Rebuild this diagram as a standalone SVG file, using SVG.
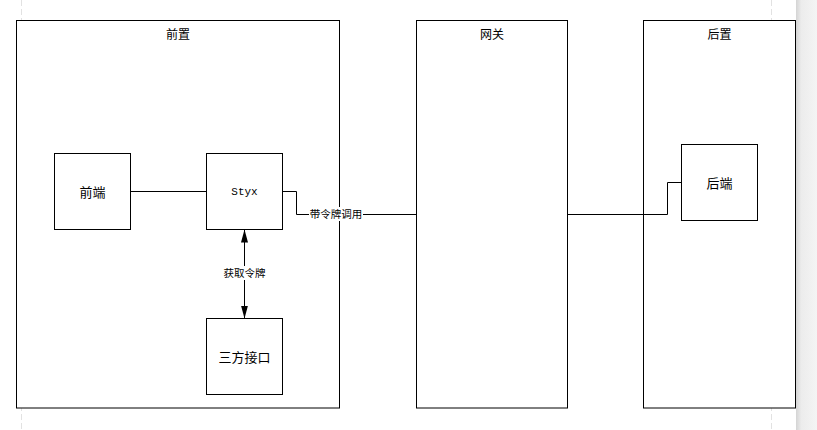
<svg xmlns="http://www.w3.org/2000/svg" width="817" height="430" viewBox="0 0 817 430">
<defs>
<style>
.box{fill:#fff;stroke:#000;stroke-width:1}
.ln{fill:none;stroke:#000;stroke-width:1}
.t{font-family:"Noto Sans CJK SC","Liberation Sans",sans-serif;font-size:12px;fill:#000;text-anchor:middle;dominant-baseline:central}
.lbl{font-family:"Noto Sans CJK SC","Liberation Sans",sans-serif;font-size:10.5px;fill:#000;text-anchor:middle;dominant-baseline:central}
.mono{font-family:"Liberation Mono",monospace;font-size:11px;fill:#000;text-anchor:middle;dominant-baseline:central}
.pg{stroke:#e2e2e2;stroke-width:1;stroke-dasharray:6 3;fill:none}
</style>
<linearGradient id="sb" x1="0" x2="1" y1="0" y2="0">
<stop offset="0" stop-color="#d4d4d4"/>
<stop offset="0.25" stop-color="#ececec"/>
<stop offset="1" stop-color="#f4f4f4"/>
</linearGradient>
<marker id="ah" viewBox="0 0 13 7" refX="13" refY="3.5" markerWidth="13" markerHeight="7" markerUnits="userSpaceOnUse" orient="auto-start-reverse">
<path d="M0,0 L13,3.5 L0,7 Z" fill="#000"/>
</marker>
</defs>
<rect x="0" y="0" width="817" height="430" fill="#fff"/>
<line class="pg" x1="21.5" y1="0" x2="21.5" y2="430"/>
<line class="pg" x1="771.5" y1="0" x2="771.5" y2="430"/>
<rect x="796" y="0" width="21" height="430" fill="url(#sb)"/>

<g id="front-container">
<rect class="box" x="16.5" y="20.5" width="323" height="387.5"/>
<text class="t" x="178" y="33">前置</text>
</g>
<g id="gateway">
<rect class="box" x="416.5" y="20.5" width="151" height="387.5"/>
<text class="t" x="492" y="33">网关</text>
</g>
<g id="back-container">
<rect class="box" x="643.5" y="20.5" width="152" height="387.5"/>
<text class="t" x="719.5" y="33">后置</text>
</g>

<g id="connectors">
<path class="ln" d="M130.5,191.5 H206.5"/>
<path class="ln" d="M282.5,191.5 H296.5 V214.5 H416.5"/>
<path class="ln" d="M567.5,214.5 H667.5 V182.5 H681.5"/>
<line class="ln" x1="244.5" y1="229.5" x2="244.5" y2="318.5" marker-start="url(#ah)" marker-end="url(#ah)"/>
<rect x="309" y="207" width="54" height="14" fill="#fff"/>
<text class="lbl" x="336" y="213.5">带令牌调用</text>
<rect x="222" y="266" width="45" height="14" fill="#fff"/>
<text class="lbl" x="244.5" y="272.5">获取令牌</text>
</g>

<g id="frontend">
<rect class="box" x="54.5" y="153.5" width="76" height="76"/>
<text class="t" x="92.5" y="191.5" style="font-size:13px">前端</text>
</g>
<g id="styx">
<rect class="box" x="206.5" y="153.5" width="76" height="76"/>
<text class="mono" x="244.5" y="191.5">Styx</text>
</g>
<g id="third-party">
<rect class="box" x="206.5" y="318.5" width="76" height="76"/>
<text class="t" x="244.5" y="356.5" style="font-size:13px">三方接口</text>
</g>
<g id="backend">
<rect class="box" x="681.5" y="144.5" width="76" height="76"/>
<text class="t" x="719.5" y="182.5" style="font-size:13px">后端</text>
</g>
</svg>
